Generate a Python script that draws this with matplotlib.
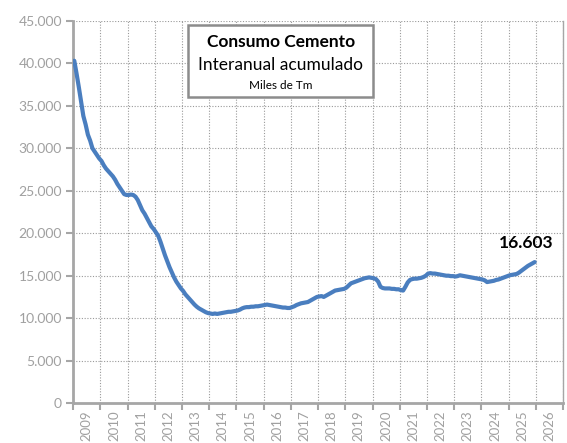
import numpy as np
import matplotlib.pyplot as plt
from matplotlib.ticker import FuncFormatter, FixedLocator
from matplotlib.patches import Rectangle

# Consumo de cemento, interanual acumulado (miles de Tm), mensual desde ene-2009
years = list(range(2009, 2026))
consumo = [
    [40300, 38800, 37200, 35500, 33800, 32800, 31600, 30900, 30000, 29600, 29200, 28800],  # 2009
    [28500, 28000, 27600, 27300, 27000, 26700, 26300, 25800, 25400, 25000, 24600, 24500],  # 2010
    [24500, 24550, 24500, 24300, 23900, 23300, 22700, 22300, 21800, 21300, 20800, 20500],  # 2011
    [20100, 19700, 19000, 18200, 17400, 16700, 16000, 15400, 14800, 14300, 13900, 13500],  # 2012
    [13200, 12800, 12500, 12200, 11900, 11600, 11350, 11150, 11000, 10850, 10700, 10600],  # 2013
    [10550, 10500, 10550, 10500, 10550, 10600, 10650, 10700, 10750, 10750, 10800, 10850],  # 2014
    [10900, 11000, 11150, 11250, 11300, 11300, 11350, 11350, 11400, 11400, 11450, 11500],  # 2015
    [11550, 11600, 11550, 11500, 11450, 11400, 11350, 11300, 11250, 11250, 11200, 11200],  # 2016
    [11300, 11400, 11550, 11650, 11750, 11800, 11850, 11900, 12050, 12200, 12350, 12500],  # 2017
    [12550, 12600, 12500, 12650, 12800, 12950, 13100, 13250, 13300, 13350, 13400, 13450],  # 2018
    [13600, 13850, 14100, 14200, 14300, 14400, 14500, 14600, 14700, 14750, 14800, 14750],  # 2019
    [14700, 14600, 14300, 13700, 13550, 13500, 13500, 13500, 13450, 13450, 13400, 13400],  # 2020
    [13300, 13250, 13700, 14200, 14500, 14600, 14650, 14650, 14700, 14750, 14850, 15000],  # 2021
    [15250, 15300, 15250, 15250, 15200, 15150, 15100, 15050, 15000, 15000, 14950, 14950],  # 2022
    [14900, 14950, 15050, 15000, 14950, 14900, 14850, 14800, 14750, 14700, 14650, 14600],  # 2023
    [14550, 14450, 14250, 14300, 14350, 14400, 14500, 14550, 14650, 14750, 14850, 14950],  # 2024
    [15050, 15100, 15150, 15200, 15350, 15550, 15750, 15950, 16150, 16300, 16450, 16603],  # 2025
]
x_labels = [str(a) for a in range(2009, 2027)]
ultimo = 16603

# serie mensual
valores = [v for fila in consumo for v in fila]
meses = [a + (m + 0.5) / 12 for a in years for m in range(12)]

plt.rcParams['font.family'] = ['Lato', 'DejaVu Sans']

fig = plt.figure(figsize=(5.67, 4.43), dpi=100)
ax = fig.add_axes([0.129, 0.090, 0.864, 0.863])

gris = '#A6A6A6'
ax.plot(meses, valores, color='#4A7EBF', lw=3, solid_capstyle='round', zorder=3)

ax.set_xlim(2009, 2027)
ax.set_ylim(0, 45000)
ax.set_yticks(range(0, 45001, 5000))
ax.yaxis.set_major_formatter(FuncFormatter(lambda v, p: f"{int(v):,}".replace(',', '.')))

# ticks en los limites de cada año, etiquetas centradas
ax.xaxis.set_major_locator(FixedLocator(range(2009, 2028)))
ax.xaxis.set_minor_locator(FixedLocator([a + 0.5 for a in range(2009, 2027)]))
ax.set_xticklabels([], minor=False)
ax.set_xticklabels(x_labels, minor=True, rotation=90)
ax.tick_params(axis='x', which='minor', length=0, pad=5, labelsize=9.5, labelcolor='#A0A0A0')
ax.tick_params(axis='x', which='major', length=5, width=1.5, color=gris)
ax.tick_params(axis='y', length=5, width=1.5, color=gris, labelsize=10, labelcolor='#A0A0A0', pad=3)

ax.grid(True, which='major', color='#9A9A9A', linestyle=(0, (1, 1.5)), linewidth=0.8)
ax.set_axisbelow(True)

for lado in ['left', 'bottom', 'right']:
    ax.spines[lado].set_color(gris)
    ax.spines[lado].set_linewidth(2)
ax.spines['right'].set_linewidth(1)
ax.spines['top'].set_visible(False)

# cuadro de titulo
caja = Rectangle((0.235, 0.800), 0.378, 0.188, transform=ax.transAxes,
                 facecolor='white', edgecolor='#8C8C8C', lw=1.8, zorder=4)
ax.add_patch(caja)
ax.text(0.424, 0.945, 'Consumo Cemento', transform=ax.transAxes, ha='center', va='center',
        fontsize=12.5, fontweight='bold', zorder=5)
ax.text(0.424, 0.884, 'Interanual acumulado', transform=ax.transAxes, ha='center', va='center',
        fontsize=12.5, zorder=5)
ax.text(0.424, 0.832, 'Miles de Tm', transform=ax.transAxes, ha='center', va='center',
        fontsize=8.5, zorder=5)

# etiqueta del ultimo valor
ax.annotate(f"{ultimo:,}".replace(',', '.'), xy=(meses[-1], ultimo), xytext=(-6, 8),
            textcoords='offset points', ha='center', va='bottom',
            fontsize=12.5, fontweight='bold')

fig.savefig('out.png', dpi=100)
